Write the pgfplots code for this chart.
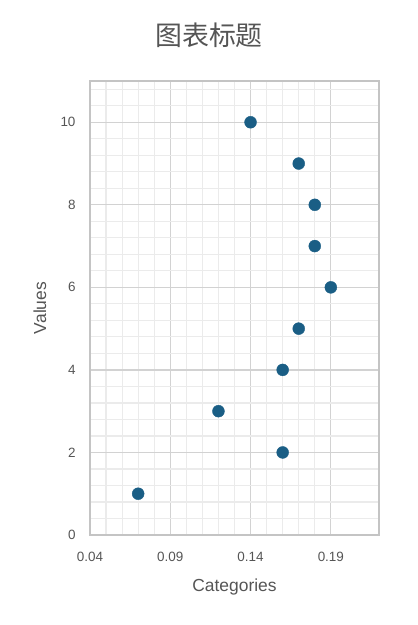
\documentclass[border=0pt]{standalone}
\usepackage{pgfplots}
\pgfplotsset{compat=1.18}
\usepackage{fontspec}
\setmainfont{Liberation Sans}
\newfontfamily\cjk{Noto Sans CJK SC}
\definecolor{pt}{HTML}{1A5E85}
\definecolor{txt}{HTML}{555555}
\definecolor{majg}{HTML}{D2D2D2}
\definecolor{ming}{HTML}{EBEBEB}
\definecolor{frame}{HTML}{C4C4C4}
\begin{document}
\begin{tikzpicture}[x=1bp,y=1bp]
\useasboundingbox (0,0) rectangle (417,625);
\begin{axis}[
  at={(90bp,90bp)}, anchor=south west,
  scale only axis, width=289bp, height=454bp,
  xmin=0.04, xmax=0.22, ymin=0, ymax=11,
  xtick={0.04,0.09,0.14,0.19},
  xticklabels={0.04,0.09,0.14,0.19},
  ytick={0,2,4,6,8,10},
  minor x tick num=4,
  minor ytick={0.4,0.8,...,10.8},
  grid=both,
  major grid style={majg, line width=1.2bp},
  minor grid style={ming, line width=1.2bp},
  axis line style={frame, line width=1.5bp},
  tick style={draw=none},
  tick label style={txt, font=\fontsize{13.5}{15}\selectfont},
  /pgf/number format/assume math mode=true,
  xticklabel style={anchor=center, yshift=-22bp},
  yticklabel style={anchor=east, xshift=-11bp},
  xlabel={Categories}, ylabel={Values},
  label style={txt, font=\fontsize{17.5}{20}\selectfont},
  xlabel style={at={(axis description cs:0.5,-0.1145)}, anchor=center},
  ylabel style={at={(axis description cs:-0.173,0.5)}, anchor=center},
  clip=false,
]
\addplot[only marks, mark=*, mark size=6pt, mark options={fill=pt, draw=pt}] coordinates {
(0.07,1) (0.16,2) (0.12,3) (0.16,4) (0.17,5) (0.19,6) (0.18,7) (0.18,8) (0.17,9) (0.14,10)
};
\end{axis}
\node[txt, font=\cjk\fontsize{27}{30}\selectfont] at (209,590) {图表标题};
\end{tikzpicture}
\end{document}
